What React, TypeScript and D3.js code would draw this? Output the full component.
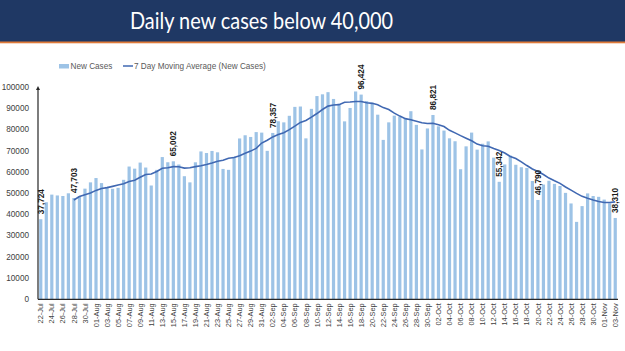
import * as d3 from "d3";

// daily new cases, 22-Jul to 03-Nov
const dates: string[] = [];
{
  const start = new Date(2020, 6, 22);
  const fmt = d3.timeFormat("%d-%b");
  for (let i = 0; i < 105; i++) dates.push(fmt(d3.timeDay.offset(start, i)));
}

const newCases = [
  37724, 45720, 49310, 48916, 48661, 49931, 47703, 48513, 52123, 55079,
  57118, 54735, 52972, 52050, 52509, 56282, 62538, 61537, 64399, 62064,
  53601, 60963, 66999, 64553, 65002, 63490, 57981, 55079, 64531, 69652,
  68898, 69878, 69239, 61408, 60975, 67151, 75760, 77266, 76472, 78761,
  78512, 69921, 78357, 83883, 83341, 86432, 90632, 90802, 75809, 89706,
  95735, 96551, 97570, 94372, 92071, 83809, 90123, 97894, 96424, 93337,
  92605, 86961, 75083, 83347, 86508, 86052, 85362, 88600, 82170, 70589,
  80472, 86821, 81484, 79476, 75829, 74442, 61267, 72049, 78524, 70496,
  73272, 74383, 66732, 55342, 63509, 67708, 63371, 62212, 61871, 55722,
  46790, 54044, 55838, 54366, 53370, 50129, 45148, 36470, 43893, 49881,
  48648, 48268, 46964, 45231, 38310,
];

// 7 day moving average, starts on 28-Jul
const movingAvg = [
  46800, 48400, 49300, 50100, 51300, 52200, 52600, 53200, 53800, 54400,
  55500, 56100, 57500, 58800, 59000, 60200, 61700, 62000, 62500, 62400,
  61800, 62000, 62500, 62900, 63500, 64200, 65000, 65500, 66400, 66800,
  67600, 68800, 69800, 71100, 73600, 74900, 76500, 77600, 78500, 79900,
  81600, 83300, 84200, 85800, 87500, 89400, 91000, 91500, 91700, 92800,
  92900, 93200, 93200, 92600, 92300, 91600, 90300, 89400, 87700, 86300,
  85100, 84600, 83900, 83200, 82800, 82900, 82200, 81400, 79600, 78400,
  77100, 75900, 74700, 73100, 72300, 72100, 71000, 70100, 68900, 67300,
  66300, 64700, 63000, 61400, 60200, 58800, 57100, 55800, 54600, 52900,
  51400, 49900, 48500, 47600, 46800, 46100, 45600, 45600, 45900,
];
const maStart = 6;

const annotated = [0, 6, 24, 42, 58, 71, 83, 90, 104];
const yTicks = d3.range(0, 100001, 10000);

const W = 625;
const H = 351;
const plot = { left: 38, right: 618, top: 87, bottom: 299.3 };

const barColor = "#9dc3e6";
const lineColor = "#4068b2";

export default function App() {
  const x = d3
    .scaleBand<number>()
    .domain(d3.range(newCases.length))
    .range([plot.left, plot.right])
    .paddingInner(0.42)
    .paddingOuter(0.21);
  const y = d3.scaleLinear().domain([0, 100000]).range([plot.bottom, plot.top]);
  const cx = (i: number) => (x(i) ?? 0) + x.bandwidth() / 2;

  const line = d3
    .line<number>()
    .x((_, k) => cx(k + maStart))
    .y((d) => y(d));

  const fmt = d3.format(",");

  return (
    <svg
      width={W}
      height={H}
      style={{ position: "absolute", left: 0, top: 0, background: "#fff" }}
      fontFamily="'Liberation Sans', Arial, sans-serif"
    >
      {/* banner */}
      <rect x={0} y={0} width={W} height={42} fill="#1f3864" />
      <rect x={0} y={41.5} width={W} height={1.8} fill="#e07b39" />
      <text
        x={130}
        y={28.5}
        fill="#fff"
        fontSize={22.5}
        textLength={263}
        lengthAdjust="spacingAndGlyphs"
        fontFamily="Lato, 'Open Sans', sans-serif"
      >
        Daily new cases below 40,000
      </text>

      {/* legend */}
      <rect x={59} y={64} width={10} height={4.5} fill={barColor} />
      <text x={70.5} y={69} fontSize={8.2} fill="#595959">
        New Cases
      </text>
      <line x1={123} x2={133} y1={66} y2={66} stroke={lineColor} strokeWidth={1.5} />
      <text x={134} y={69} fontSize={8.2} fill="#595959">
        7 Day Moving Average (New Cases)
      </text>

      {/* y labels */}
      {yTicks.map((t) => (
        <text
          key={t}
          x={29}
          y={y(t)}
          dy="0.35em"
          textAnchor="end"
          fontSize={8.2}
          fill="#404040"
        >
          {t}
        </text>
      ))}

      {/* bars */}
      {newCases.map((v, i) => (
        <rect
          key={i}
          x={x(i)}
          y={y(v)}
          width={x.bandwidth()}
          height={plot.bottom - y(v)}
          fill={barColor}
        />
      ))}

      {/* moving average */}
      <path d={line(movingAvg) ?? ""} fill="none" stroke={lineColor} strokeWidth={1.6} />

      {/* axes */}
      <line x1={plot.left} x2={plot.right} y1={plot.bottom} y2={plot.bottom} stroke="#262626" strokeWidth={1.2} />
      <line x1={plot.left} x2={plot.left} y1={plot.bottom} y2={plot.top + 2} stroke="#262626" strokeWidth={1.2} />
      <path
        d={`M${plot.left - 2},${plot.top + 3} L${plot.left},${plot.top - 1} L${plot.left + 2},${plot.top + 3} Z`}
        fill="#262626"
      />

      {/* annotations */}
      {annotated.map((i) => (
        <text
          key={i}
          transform={`translate(${cx(i) + 3},${y(newCases[i]) - 5}) rotate(-90)`}
          fontSize={8.2}
          fontWeight="bold"
          fill="#1a1a1a"
        >
          {fmt(newCases[i])}
        </text>
      ))}

      {/* x labels */}
      {dates.map((d, i) =>
        i % 2 === 0 ? (
          <text
            key={d}
            transform={`translate(${cx(i) + 2.6},${plot.bottom + 4}) rotate(-90)`}
            textAnchor="end"
            fontSize={7.4}
            fill="#404040"
          >
            {d}
          </text>
        ) : null,
      )}
    </svg>
  );
}
